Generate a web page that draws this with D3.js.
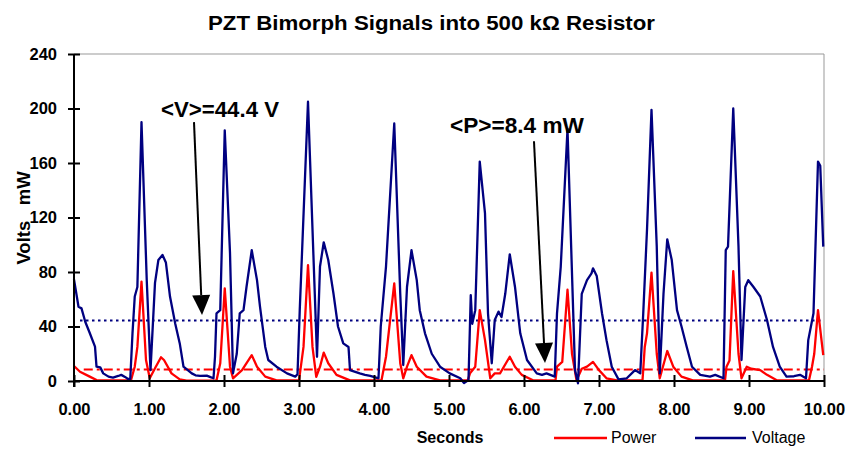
<!DOCTYPE html>
<html>
<head>
<meta charset="utf-8">
<script src="https://cdn.jsdelivr.net/npm/d3@7"></script>
<style>
  body { margin: 0; background: #fff; }
  svg { font-family: "Liberation Sans", Arial, sans-serif; }
</style>
</head>
<body>
<svg id="chart" width="849" height="450"></svg>
<script>
// voltage trace (seconds, volts)
var voltTime = [0, 0.06, 0.10, 0.15, 0.21, 0.28, 0.30, 0.35, 0.39, 0.46, 0.52, 0.59, 0.63, 0.68, 0.72, 0.75,
  0.78, 0.81, 0.845, 0.90, 0.97, 1.02, 1.08, 1.125, 1.18, 1.225, 1.28, 1.35, 1.41, 1.46, 1.57, 1.62, 1.68, 1.77, 1.82, 1.86,
  1.88, 1.90, 1.95, 2.01, 2.08, 2.12, 2.17, 2.21, 2.26, 2.30, 2.37, 2.44, 2.48, 2.55, 2.59, 2.70, 2.84, 2.95,
  2.98, 3.01, 3.12, 3.24, 3.28, 3.33, 3.39, 3.46, 3.52, 3.59, 3.66, 3.68, 3.81, 3.88, 3.95, 4.06,
  4.09, 4.16, 4.27, 4.35, 4.39, 4.44, 4.50, 4.57, 4.61, 4.68, 4.77, 4.88, 5.01, 5.15, 5.20, 5.26,
  5.29, 5.31, 5.35, 5.41, 5.48, 5.52, 5.57, 5.61, 5.66, 5.70, 5.75, 5.81, 5.88, 5.95, 6.04, 6.17, 6.24, 6.30, 6.41,
  6.44, 6.49, 6.58, 6.68, 6.72, 6.77, 6.84, 6.90, 6.92, 6.97, 7.04, 7.10, 7.17, 7.26, 7.37, 7.48, 7.55,
  7.59, 7.64, 7.70, 7.77, 7.81, 7.86, 7.91, 7.97, 8.04, 8.10, 8.17, 8.24, 8.35, 8.48, 8.55, 8.66,
  8.69, 8.72, 8.79, 8.86, 8.90, 8.95, 8.99, 9.06, 9.15, 9.24, 9.32, 9.41, 9.50, 9.60, 9.68, 9.76,
  9.79, 9.86, 9.92, 9.95, 9.99];
var voltValues = [74.6, 54.5, 53.3, 43.5, 35.2, 25.2, 10.5, 10, 5.6, 3.2, 2.5, 3.7, 4.5, 3, 1.5, 1.5,
  35, 62, 69, 190, 74, 8, 72, 88.8, 92.5, 87, 62, 42, 27.6, 10.5, 5.6, 4.2, 3.7, 3.9, 2.8, 2,
  17.8, 49.7, 52, 184, 94, 5.6, 20, 49.7, 52, 69, 96, 74, 54.5, 25, 15.4, 10.5, 5.6, 3.2,
  5, 52, 205, 17.8, 84, 101.8, 88.8, 64, 40, 27.6, 25, 8, 5.6, 4.5, 3.7, 2,
  40, 84, 189, 64, 11.7, 69, 96, 74, 52, 35, 20, 10.5, 5.6, 2, -1.5, 0.7,
  63, 42, 52, 161, 123, 49.7, 13, 44.8, 50.9, 47, 64, 93, 69, 35, 15.4, 5.6, 4.5, 5.6, 3.2,
  49.7, 84, 185, 8, -1.7, 64, 74, 79, 82.7, 77, 49.7, 30, 10.5, 1.2, 2, 8, 5.6,
  49.7, 111, 199, 98.6, 5.6, 64, 104, 88.8, 52, 40, 25, 10.5, 4.5, 3.2, 4.5, 2,
  96, 98.6, 200, 98.6, 15.4, 69, 74, 69, 62, 44.8, 25, 10.5, 3.2, 3.5, 4.5, 2,
  30, 49.7, 161, 158, 98.6];

// power trace (seconds, milliwatts)
var powerTime = [0, 0.08, 0.21, 0.30, 0.76, 0.81, 0.845, 0.90, 0.96, 1.01, 1.08, 1.16, 1.20, 1.30, 1.41, 1.50,
  1.90, 1.95, 2.01, 2.08, 2.12, 2.24, 2.37, 2.44, 2.55, 2.70,
  3.00, 3.06, 3.12, 3.18, 3.23, 3.28, 3.33, 3.39, 3.50, 3.68,
  4.10, 4.16, 4.27, 4.35, 4.39, 4.44, 4.50, 4.57, 4.70, 4.88,
  5.25, 5.28, 5.35, 5.41, 5.48, 5.55, 5.61, 5.68, 5.81, 5.88, 5.97, 6.12,
  6.42, 6.44, 6.51, 6.58, 6.64, 6.70, 6.77, 6.84, 6.92, 7.00, 7.10, 7.24,
  7.58, 7.61, 7.64, 7.70, 7.77, 7.81, 7.91, 7.99, 8.10, 8.25,
  8.68, 8.70, 8.74, 8.79, 8.86, 8.90, 8.97, 9.03, 9.15, 9.24, 9.37,
  9.80, 9.84, 9.87, 9.92, 9.99];
var powerValues = [11, 6.8, 3.2, 0.7, 0.5, 10.5, 25, 72.9, 15.4, 2, 9.3, 17.4, 15.4, 5.6, 1.2, 0.3,
  0.3, 13, 68, 10.5, 2, 8, 19, 10.5, 3.2, 0.5,
  0.5, 25, 85, 25, 3, 10.5, 20.8, 13, 4.5, 0.5,
  0.5, 17.8, 71.7, 13, 2, 10.5, 19, 10.5, 3.2, 0.5,
  0.5, 5.6, 10.5, 52, 30, 2, 5.6, 5.6, 17.8, 10.5, 4.5, 0.5,
  0.5, 10.5, 14, 67, 20, 0.5, 9, 10.5, 14, 8, 2, 0.5,
  0.5, 25, 35, 79.5, 20, 2, 22, 10.5, 3.2, 0.5,
  0.5, 10.5, 15, 80.7, 20, 2, 10.5, 9, 8, 4.5, 0.5,
  0.5, 10.5, 20, 52, 19];

var xTicks = [0, 1, 2, 3, 4, 5, 6, 7, 8, 9, 10];
var yTicks = [0, 40, 80, 120, 160, 200, 240];
var avgVolt = 44.4;
var avgPower = 8.4;

var svg = d3.select("#chart");
var plotL = 74, plotR = 824, plotT = 54, plotB = 381;

var x = d3.scaleLinear().domain([0, 10]).range([plotL, plotR]);
var y = d3.scaleLinear().domain([0, 240]).range([plotB, plotT]);

// title
svg.append("text")
  .attr("x", 431.5).attr("y", 30)
  .attr("text-anchor", "middle")
  .attr("textLength", 447).attr("lengthAdjust", "spacingAndGlyphs")
  .style("font-size", "20px").style("font-weight", "bold")
  .text("PZT Bimorph Signals into 500 k\u03A9 Resistor");

// plot frame (grey top/right)
svg.append("path")
  .attr("d", "M" + plotL + "," + plotT + "H" + plotR + "V" + plotB)
  .attr("fill", "none").attr("stroke", "#999").attr("stroke-width", 1);

// average lines
svg.append("line")
  .attr("x1", x(0.08)).attr("x2", x(10))
  .attr("y1", y(avgVolt)).attr("y2", y(avgVolt))
  .attr("stroke", "#000080").attr("stroke-width", 2)
  .attr("stroke-dasharray", "2.5,3.5");
svg.append("line")
  .attr("x1", x(0.13)).attr("x2", x(10))
  .attr("y1", y(avgPower)).attr("y2", y(avgPower))
  .attr("stroke", "#ff0000").attr("stroke-width", 2)
  .attr("stroke-dasharray", "9,4,3,4");

var line = d3.line()
  .x(function(d) { return x(d[0]) })
  .y(function(d) { return y(d[1]) });

var voltData = voltTime.map(function(t, i) { return [t, voltValues[i]] });
var powerData = powerTime.map(function(t, i) { return [t, powerValues[i]] });

svg.append("path")
  .datum(powerData)
  .attr("d", line)
  .attr("fill", "none").attr("stroke", "#ff0000")
  .attr("stroke-width", 2.3).attr("stroke-linejoin", "round");

svg.append("path")
  .datum(voltData)
  .attr("d", line)
  .attr("fill", "none").attr("stroke", "#000080")
  .attr("stroke-width", 2.3).attr("stroke-linejoin", "round");

// axes
var xAxis = svg.append("g")
  .attr("transform", "translate(0," + plotB + ")")
  .call(d3.axisBottom(x).tickValues(xTicks).tickSize(6).tickPadding(16)
    .tickFormat(function(d) { return d.toFixed(2) }));
var yAxis = svg.append("g")
  .attr("transform", "translate(" + plotL + ",0)")
  .call(d3.axisLeft(y).tickValues(yTicks).tickSize(6).tickPadding(11));

[xAxis, yAxis].forEach(function(g) {
  g.select(".domain").attr("stroke", "#000").attr("stroke-width", 2);
  g.selectAll(".tick line").attr("stroke", "#000").attr("stroke-width", 2);
  g.selectAll(".tick text")
    .attr("fill", "#000")
    .style("font-size", "16.5px").style("font-weight", "bold")
    .style("font-family", "'Liberation Sans', Arial, sans-serif");
});
// ticks cross the axis lines
xAxis.selectAll(".tick line").attr("y1", -6).attr("y2", 6);
yAxis.selectAll(".tick line").attr("x1", -6).attr("x2", 6);
xAxis.select(".domain").attr("d", "M" + plotL + ",0H" + plotR);
yAxis.select(".domain").attr("d", "M0," + plotT + "V" + (plotB + 6));

// axis titles
svg.append("text")
  .attr("x", 450).attr("y", 443)
  .attr("text-anchor", "middle")
  .style("font-size", "16px").style("font-weight", "bold")
  .text("Seconds");
svg.append("text")
  .attr("transform", "translate(30,218) rotate(-90)")
  .attr("text-anchor", "middle")
  .style("font-size", "18.5px").style("font-weight", "bold")
  .style("white-space", "pre")
  .text("Volts   mW");

// legend
var legend = [["Power", "#ff0000", 554, 607, 611], ["Voltage", "#000080", 695, 746, 752]];
legend.forEach(function(l) {
  svg.append("line")
    .attr("x1", l[2]).attr("x2", l[3]).attr("y1", 438).attr("y2", 438)
    .attr("stroke", l[1]).attr("stroke-width", 2.3);
  svg.append("text")
    .attr("x", l[4]).attr("y", 443)
    .style("font-size", "16px")
    .text(l[0]);
});

// annotations with arrows
function arrow(t0, v0, t1, v1) {
  var x0 = x(t0), y0 = y(v0), x1 = x(t1), y1 = y(v1);
  var ang = Math.atan2(y1 - y0, x1 - x0);
  var len = 20, half = 9;
  var bx = x1 - len * Math.cos(ang), by = y1 - len * Math.sin(ang);
  svg.append("line")
    .attr("x1", x0).attr("y1", y0).attr("x2", bx).attr("y2", by)
    .attr("stroke", "#000").attr("stroke-width", 2);
  var px = -Math.sin(ang) * half, py = Math.cos(ang) * half;
  svg.append("path")
    .attr("d", "M" + x1 + "," + y1 + "L" + (bx + px) + "," + (by + py) + "L" + (bx - px) + "," + (by - py) + "Z")
    .attr("fill", "#000");
}

svg.append("text")
  .attr("x", x(1.16)).attr("y", y(194))
  .attr("textLength", 118).attr("lengthAdjust", "spacingAndGlyphs")
  .style("font-size", "21.5px").style("font-weight", "bold")
  .text("<V>=44.4 V");
arrow(1.6, 190, 1.707, 48.4);

svg.append("text")
  .attr("x", x(5.013)).attr("y", y(182))
  .attr("textLength", 134).attr("lengthAdjust", "spacingAndGlyphs")
  .style("font-size", "21.5px").style("font-weight", "bold")
  .text("<P>=8.4 mW");
arrow(6.133, 176, 6.28, 13.2);
</script>
</body>
</html>
